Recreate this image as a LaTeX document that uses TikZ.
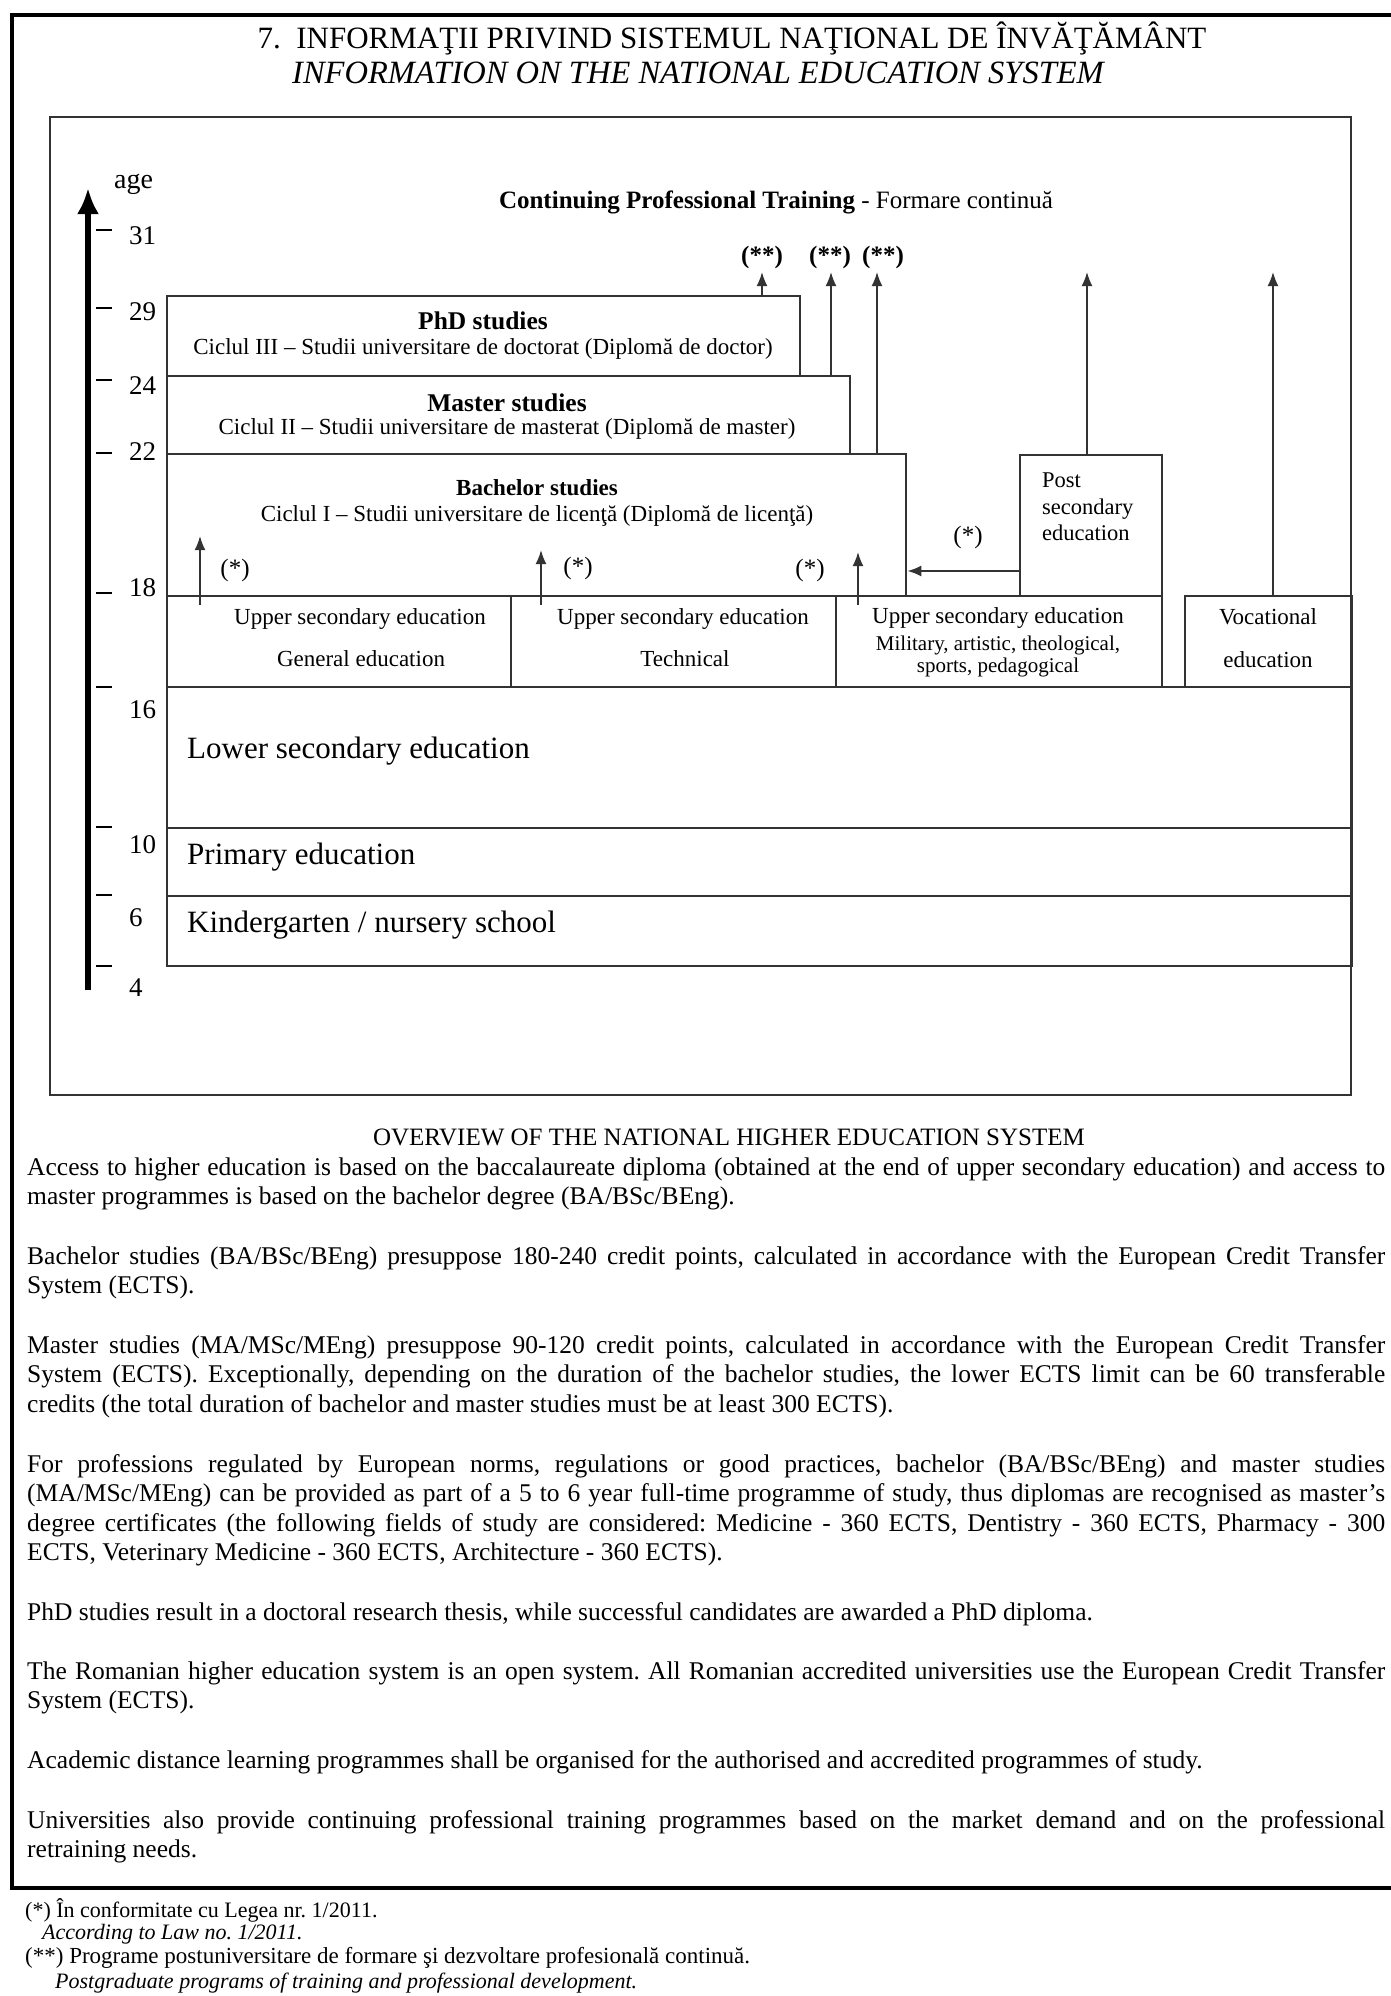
\documentclass[tikz,border=0pt]{standalone}
\usepackage{fontspec}
\setmainfont{Liberation Serif}
\usetikzlibrary{arrows.meta}
\usetikzlibrary{positioning}
\frenchspacing

\begin{document}
\begin{tikzpicture}
	[x=1pt, y=-1pt,
	> = {Latex[length=14pt,width=11pt]},
	edubox/.style = {draw=black!80, line width=2.4pt, inner sep=0pt, anchor=north west},
	uparrow/.style = {->, draw=black!80, line width=1.8pt},
	txt/.style = {inner sep=0pt, font=\fontsize{23}{26}\selectfont},
	bigtxt/.style = {inner sep=0pt, anchor=west, font=\fontsize{31}{36}\selectfont},
	num/.style = {inner sep=0pt, anchor=west, font=\fontsize{27}{30}\selectfont},
	para/.style = {inner sep=0pt, anchor=base west, text width=1358pt, align=justify, font=\fontsize{25.5}{29.5}\selectfont},
	note/.style = {inner sep=0pt, anchor=west, font=\fontsize{22}{25}\selectfont}
	]
	\useasboundingbox (0,0) rectangle (1391,1996);
	\clip (0,0) rectangle (1391,1996);
	\fill[white] (0,0) rectangle (1391,1996);

	% frames
	\draw[line width=4pt] (12,15) rectangle (1450,1888);
	\draw[draw=black!80, line width=2pt] (50,117) rectangle (1351,1095);

	\node[inner sep=0pt, font=\fontsize{31}{36}\selectfont] (title) at (732,38) {7.\ \ INFORMAŢII PRIVIND SISTEMUL NAŢIONAL DE ÎNVĂŢĂMÂNT};
	\node[inner sep=0pt, font=\fontsize{32.5}{36}\selectfont\itshape] (titleen) at (698,73) {INFORMATION ON THE NATIONAL EDUCATION SYSTEM};

	% age axis
	\coordinate (axbot) at (88,990);
	\coordinate (axtop) at (88,188);
	\draw[line width=6pt, -{Latex[length=26pt,width=22pt]}] (axbot) -- (axtop);
	\node[num, font=\fontsize{28}{30}\selectfont] (age) at (114,184) {age};
	\draw[line width=2pt] (96,230) -- (112,230);
	\draw[line width=2pt] (96,308) -- (112,308);
	\draw[line width=2pt] (96,380) -- (112,380);
	\draw[line width=2pt] (96,453) -- (112,453);
	\draw[line width=2pt] (96,593) -- (112,593);
	\draw[line width=2pt] (96,687) -- (112,687);
	\draw[line width=2pt] (96,827) -- (112,827);
	\draw[line width=2pt] (96,895) -- (112,895);
	\draw[line width=2pt] (96,966) -- (112,966);
	\node[num] (a31) at (129,236) {31};
	\node[num] (a29) at (129,312) {29};
	\node[num] (a24) at (129,386) {24};
	\node[num] (a22) at (129,452) {22};
	\node[num] (a18) at (129,588) {18};
	\node[num] (a16) at (129,710) {16};
	\node[num] (a10) at (129,845) {10};
	\node[num] (a6) at (129,918) {6};
	\node[num] (a4) at (129,988) {4};

	% boxes
	\node[edubox, minimum width=633pt, minimum height=80pt] (phd) at (166,295) {};
	\node[edubox, minimum width=683pt, minimum height=78pt] (master) at (166,375) {};
	\node[edubox, minimum width=739pt, minimum height=142pt] (bach) at (166,453) {};
	\node[edubox, minimum width=142pt, minimum height=141pt] (post) at (1019,454) {};
	\node[edubox, minimum width=344pt, minimum height=91pt] (gen) at (166,595) {};
	\node[edubox, minimum width=325pt, minimum height=91pt] (tech) at (510,595) {};
	\node[edubox, minimum width=326pt, minimum height=91pt] (mil) at (835,595) {};
	\node[edubox, minimum width=167pt, minimum height=91pt] (voc) at (1184,595) {};
	\node[edubox, minimum width=1185pt, minimum height=141pt] (lower) at (166,686) {};
	\node[edubox, minimum width=1185pt, minimum height=68pt] (prim) at (166,827) {};
	\node[edubox, minimum width=1185pt, minimum height=70pt] (kind) at (166,895) {};

	\node[txt, font=\fontsize{25}{28}\selectfont] (cpt) at (776,202) {\textbf{Continuing Professional Training} - Formare continuă};

	\node[txt, font=\fontsize{25.5}{28}\selectfont\bfseries] (phdt) at (483,321) {PhD studies};
	\node[txt] (phdc) at (483,349) {Ciclul III -- Studii universitare de doctorat (Diplomă de doctor)};
	\node[txt, font=\fontsize{25.5}{28}\selectfont\bfseries] (mastert) at (507,403) {Master studies};
	\node[txt] (masterc) at (507,429) {Ciclul II -- Studii universitare de masterat (Diplomă de master)};
	\node[txt, font=\fontsize{23}{26}\selectfont\bfseries] (bacht) at (537,488) {Bachelor studies};
	\node[txt] (bachc) at (537,516) {Ciclul I -- Studii universitare de licenţă (Diplomă de licenţă)};

	\node[txt, anchor=west, align=left, font=\fontsize{22.5}{26.5}\selectfont] (postt) at (1042,507) {Post\\secondary\\education};

	\node[txt] (gen1) at (360,619) {Upper secondary education};
	\node[txt] (gen2) at (361,659) {General education};
	\node[txt] (tech1) at (683,619) {Upper secondary education};
	\node[txt] (tech2) at (685,659) {Technical};
	\node[txt] (mil1) at (998,618) {Upper secondary education};
	\node[txt, font=\fontsize{21}{22}\selectfont] (mil2) at (998,645) {Military, artistic, theological,};
	\node[txt, font=\fontsize{21}{22}\selectfont] (mil3) at (998,667) {sports, pedagogical};
	\node[txt] (voc1) at (1268,617) {Vocational};
	\node[txt] (voc2) at (1268,660) {education};

	\node[bigtxt] (lowert) at (187,751) {Lower secondary education};
	\node[bigtxt] (primt) at (187,857) {Primary education};
	\node[bigtxt] (kindt) at (187,925) {Kindergarten / nursery school};

	% continuing training arrows
	\coordinate (t1) at (762,272);
	\coordinate (t2) at (831,272);
	\coordinate (t3) at (877,272);
	\coordinate (t4) at (1087,272);
	\coordinate (t5) at (1273,272);
	\draw[uparrow] (phd.north -| t1) -- (t1);
	\draw[uparrow] (master.north -| t2) -- (t2);
	\draw[uparrow] (bach.north -| t3) -- (t3);
	\draw[uparrow] (post.north -| t4) -- (t4);
	\draw[uparrow] (voc.north -| t5) -- (t5);
	\node[txt, font=\fontsize{25}{28}\selectfont\bfseries] (s1) at (762,257) {(**)};
	\node[txt, font=\fontsize{25}{28}\selectfont\bfseries] (s2) at (830,257) {(**)};
	\node[txt, font=\fontsize{25}{28}\selectfont\bfseries] (s3) at (883,257) {(**)};

	% access arrows (*)
	\coordinate (b1) at (200,605);
	\coordinate (c1) at (200,536);
	\coordinate (b2) at (541,605);
	\coordinate (c2) at (541,550);
	\coordinate (b3) at (858,605);
	\coordinate (c3) at (858,552);
	\coordinate (hl) at (960,571);
	\draw[uparrow] (b1) -- (c1);
	\draw[uparrow] (b2) -- (c2);
	\draw[uparrow] (b3) -- (c3);
	\draw[uparrow] (post.west |- hl) -- (bach.east |- hl);
	\node[txt, font=\fontsize{25}{28}\selectfont] (l1) at (235,570) {(*)};
	\node[txt, font=\fontsize{25}{28}\selectfont] (l2) at (578,568) {(*)};
	\node[txt, font=\fontsize{25}{28}\selectfont] (l3) at (810,570) {(*)};
	\node[txt, font=\fontsize{25}{28}\selectfont] (l4) at (968,537) {(*)};

	% overview text
	\node[txt, font=\fontsize{25}{28}\selectfont] (ovw) at (729,1137) {OVERVIEW OF THE NATIONAL HIGHER EDUCATION SYSTEM};
	\node[para] (p1) at (27,1175) {Access to higher education is based on the baccalaureate diploma (obtained at the end of upper secondary education) and access to\linebreak master programmes is based on the bachelor degree (BA/BSc/BEng).};
	\node[para] (p2) at (27,1264) {Bachelor studies (BA/BSc/BEng) presuppose 180-240 credit points, calculated in accordance with the European Credit Transfer\linebreak System (ECTS).};
	\node[para] (p3) at (27,1353) {Master studies (MA/MSc/MEng) presuppose 90-120 credit points, calculated in accordance with the European Credit Transfer\linebreak System (ECTS). Exceptionally, depending on the duration of the bachelor studies, the lower ECTS limit can be 60 transferable\linebreak credits (the total duration of bachelor and master studies must be at least 300 ECTS).};
	\node[para] (p4) at (27,1472) {For professions regulated by European norms, regulations or good practices, bachelor (BA/BSc/BEng) and master studies\linebreak (MA/MSc/MEng) can be provided as part of a 5 to 6 year full-time programme of study, thus diplomas are recognised as master's\linebreak degree certificates (the following fields of study are considered: Medicine - 360 ECTS, Dentistry - 360 ECTS, Pharmacy - 300\linebreak ECTS, Veterinary Medicine - 360 ECTS, Architecture - 360 ECTS).};
	\node[para] (p5) at (27,1620) {PhD studies result in a doctoral research thesis, while successful candidates are awarded a PhD diploma.};
	\node[para] (p6) at (27,1679) {The Romanian higher education system is an open system. All Romanian accredited universities use the European Credit Transfer\linebreak System (ECTS).};
	\node[para] (p7) at (27,1768) {Academic distance learning programmes shall be organised for the authorised and accredited programmes of study.};
	\node[para] (p8) at (27,1828) {Universities also provide continuing professional training programmes based on the market demand and on the professional\linebreak retraining needs.};

	% footnotes
	\node[note] (f1) at (25,1910) {(*) În conformitate cu Legea nr. 1/2011.};
	\node[note, font=\fontsize{22}{25}\selectfont\itshape] (f1en) at (42,1934) {According to Law no. 1/2011.};
	\node[note, font=\fontsize{23}{25}\selectfont] (f2) at (25,1958) {(**) Programe postuniversitare de formare şi dezvoltare profesională continuă.};
	\node[note, font=\fontsize{22}{25}\selectfont\itshape] (f2en) at (55,1983) {Postgraduate programs of training and professional development.};
\end{tikzpicture}
\end{document}
